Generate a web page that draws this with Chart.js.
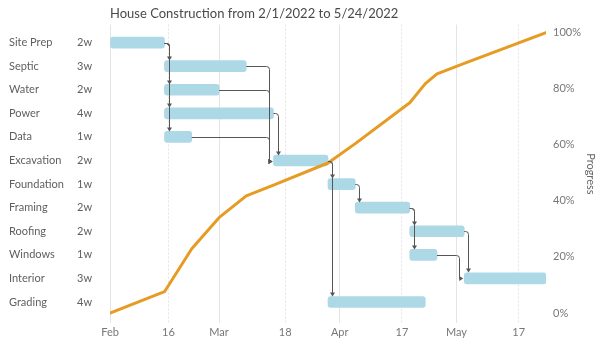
<!DOCTYPE html>
<html>
<head>
<meta charset="utf-8">
<script src="https://cdn.jsdelivr.net/npm/chart.js@4.4.0/dist/chart.umd.min.js"></script>
<style>
  html, body { margin: 0; padding: 0; background: #fff; }
  #wrap { width: 604px; height: 346px; }
</style>
</head>
<body>
<div id="wrap"><canvas id="gantt"></canvas></div>
<script>
const tasks = ['Site Prep', 'Septic', 'Water', 'Power', 'Data', 'Excavation', 'Foundation', 'Framing', 'Roofing', 'Windows', 'Interior', 'Grading'];
const durations = ['2w', '3w', '2w', '4w', '1w', '2w', '1w', '2w', '2w', '1w', '3w', '4w'];
// days counted from Feb 1, 2022
const startDay = [0, 14, 14, 14, 14, 42, 56, 63, 77, 77, 91, 56];
const endDay = [14, 35, 28, 42, 21, 56, 63, 77, 91, 84, 112, 81];
// [before, after] task pairs
const links = [[0, 1], [0, 2], [0, 3], [0, 4], [1, 5], [2, 5], [3, 5], [4, 5], [5, 6], [5, 11], [6, 7], [7, 8], [7, 9], [8, 10], [9, 10]];

const progressDay = [0, 14, 21, 28, 35, 42, 56, 63, 77, 81, 84, 91, 112];
const progressPct = [0, 7.6, 22.9, 34.0, 41.8, 45.6, 53.5, 60.4, 75.0, 81.8, 85.3, 89.0, 100];

const tickDays = [0, 15, 28, 45, 59, 75, 89, 105];
const tickLabels = ['Feb', '16', 'Mar', '18', 'Apr', '17', 'May', '17'];
const pctTicks = [0, 20, 40, 60, 80, 100];

const FONT = "Lato, 'DejaVu Sans Condensed', sans-serif";
const BAR_H = 11;
Chart.defaults.font.family = FONT;

// task name + duration columns on the left
const taskColumns = {
  id: 'taskColumns',
  afterDraw(chart) {
    const {ctx, scales: {y}} = chart;
    ctx.save();
    ctx.font = '11px ' + FONT;
    ctx.fillStyle = '#5f5f5f';
    ctx.textBaseline = 'middle';
    ctx.textAlign = 'left';
    tasks.forEach((name, i) => {
      const py = y.getPixelForValue(i);
      ctx.fillText(name, 9, py);
      ctx.fillText(durations[i], 77, py);
    });
    ctx.restore();
  }
};

// dependency arrows between bars
const taskLinks = {
  id: 'taskLinks',
  afterDatasetsDraw(chart) {
    const {ctx, scales: {x, y}} = chart;
    const half = BAR_H / 2;
    ctx.save();
    ctx.strokeStyle = '#555';
    ctx.fillStyle = '#555';
    ctx.lineWidth = 1;
    links.forEach(([a, b]) => {
      const x0 = x.getPixelForValue(endDay[a]);
      const y0 = Math.round(y.getPixelForValue(a)) + 0.5;
      const x1 = x.getPixelForValue(startDay[b]);
      const y1 = Math.round(y.getPixelForValue(b)) + 0.5;
      ctx.beginPath();
      if (x1 - x0 > 8) {
        // enter from the left side
        const cx = Math.round(x1 - 5) + 0.5;
        ctx.moveTo(x0, y0);
        ctx.arcTo(cx, y0, cx, y1, 3);
        ctx.lineTo(cx, y1);
        ctx.stroke();
        ctx.beginPath();
        ctx.moveTo(x1 - 1, y1);
        ctx.lineTo(x1 - 5, y1 - 2.5);
        ctx.lineTo(x1 - 5, y1 + 2.5);
        ctx.closePath();
        ctx.fill();
      } else {
        // drop onto the top edge
        const cx = Math.round(x0 + 4) + 0.5;
        const ty = y1 - half;
        ctx.moveTo(x0, y0);
        ctx.arcTo(cx, y0, cx, ty, 3);
        ctx.lineTo(cx, ty - 4);
        ctx.stroke();
        ctx.beginPath();
        ctx.moveTo(cx, ty - 0.5);
        ctx.lineTo(cx - 2.5, ty - 4.5);
        ctx.lineTo(cx + 2.5, ty - 4.5);
        ctx.closePath();
        ctx.fill();
      }
    });
    ctx.restore();
  }
};

new Chart(document.getElementById('gantt'), {
  type: 'bar',
  data: {
    datasets: [
      {
        type: 'line',
        label: 'Progress',
        xAxisID: 'x',
        yAxisID: 'yp',
        data: progressDay.map((d, i) => ({x: d, y: progressPct[i]})),
        borderColor: '#e69b23',
        borderWidth: 3,
        borderCapStyle: 'round',
        borderJoinStyle: 'round',
        pointRadius: 0,
        tension: 0,
        fill: false,
        order: 0
      },
      {
        type: 'bar',
        label: 'Tasks',
        indexAxis: 'y',
        xAxisID: 'x',
        yAxisID: 'y',
        data: tasks.map((t, i) => ({x: [startDay[i], endDay[i]], y: i})),
        backgroundColor: '#add8e6',
        barThickness: BAR_H,
        borderRadius: 3,
        borderSkipped: false,
        order: 1
      }
    ]
  },
  options: {
    responsive: true,
    maintainAspectRatio: false,
    devicePixelRatio: 1,
    animation: false,
    layout: {padding: {left: 110, right: 0, top: 0, bottom: 0}},
    plugins: {
      legend: {display: false},
      tooltip: {enabled: false},
      title: {
        display: true,
        text: 'House Construction from 2/1/2022 to 5/24/2022',
        align: 'start',
        fullSize: false,
        color: '#4a4a4a',
        font: {size: 13, weight: 'normal'},
        padding: {top: 6, bottom: 3}
      }
    },
    scales: {
      x: {
        type: 'linear',
        position: 'bottom',
        offset: false,
        min: 0,
        max: 112,
        afterBuildTicks: s => { s.ticks = tickDays.map(v => ({value: v})); },
        afterFit: s => { s.height = 23; },
        ticks: {
          callback: (v, i) => tickLabels[i],
          color: '#777',
          font: {size: 11},
          padding: 3,
          maxRotation: 0,
          autoSkip: false
        },
        grid: {offset: false, color: '#e4e4e4', drawTicks: false},
        border: {display: false, dash: c => (c.index % 2 ? [2, 2] : [])}
      },
      y: {
        type: 'linear',
        reverse: true,
        offset: false,
        min: -0.764,
        max: 11.89,
        display: false
      },
      yp: {
        type: 'linear',
        position: 'right',
        offset: false,
        min: -3.57,
        max: 102.86,
        afterBuildTicks: s => { s.ticks = pctTicks.map(v => ({value: v})); },
        afterFit: s => { s.width = 58; },
        ticks: {callback: v => v + '%', color: '#777', font: {size: 11}, padding: 7},
        grid: {display: false, drawTicks: false},
        border: {display: false},
        title: {display: true, text: 'Progress', color: '#666', font: {size: 11}, padding: {top: 7, bottom: 0}}
      }
    }
  },
  plugins: [taskLinks, taskColumns]
});
</script>
</body>
</html>
